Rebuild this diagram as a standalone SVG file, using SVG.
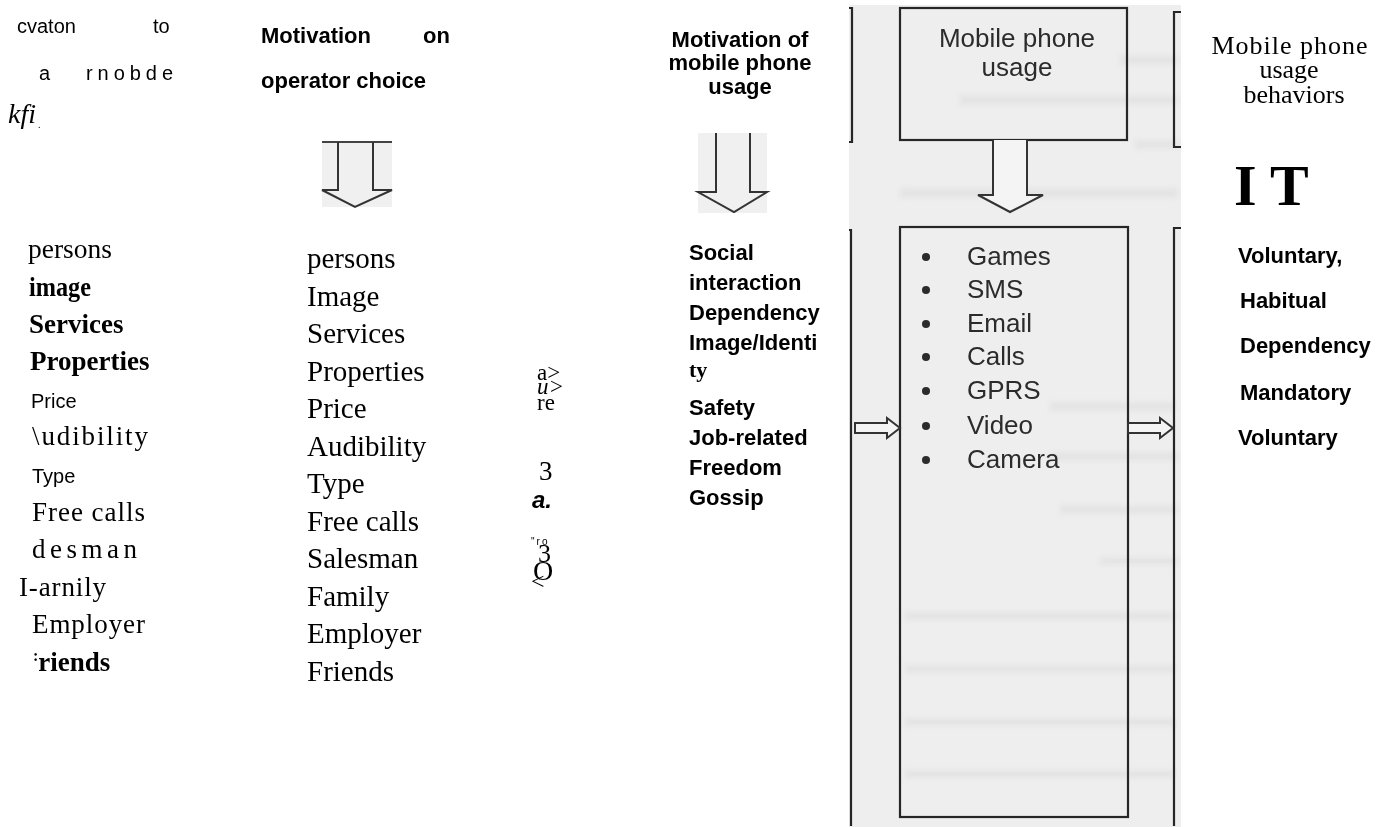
<svg xmlns="http://www.w3.org/2000/svg" width="1392" height="827" viewBox="0 0 1392 827">
<defs>
<style>
.sans{font-family:"Liberation Sans",Arial,sans-serif;fill:#000}
.sb{font-family:"Liberation Sans",Arial,sans-serif;font-weight:bold;fill:#000;font-size:22px}
.serif{font-family:"Liberation Serif","Times New Roman",serif;fill:#000}
.scan{font-family:"Liberation Sans",Arial,sans-serif;fill:#2b2b2b;font-size:26px}
.ln{fill:none;stroke:#262626;stroke-width:2.2}
.blk{fill:#f4f4f4;stroke:#333;stroke-width:2}
.ghost{fill:#d6d6d6;opacity:0.4}
</style>
<filter id="blur" x="-5%" y="-50%" width="110%" height="200%"><feGaussianBlur stdDeviation="2.5"/></filter>
</defs>
<rect width="1392" height="827" fill="#fff"/>

<!-- scanned background -->
<g id="scan-bg">
<rect x="849" y="5" width="332" height="822" fill="#eeeeee"/>
<g filter="url(#blur)">
<rect class="ghost" x="1120" y="55" width="58" height="10"/>
<rect class="ghost" x="960" y="95" width="218" height="10"/>
<rect class="ghost" x="1135" y="140" width="45" height="9"/>
<rect class="ghost" x="900" y="188" width="278" height="10"/>
<rect class="ghost" x="1050" y="402" width="125" height="9"/>
<rect class="ghost" x="1050" y="452" width="128" height="9"/>
<rect class="ghost" x="1060" y="505" width="118" height="9"/>
<rect class="ghost" x="1100" y="557" width="78" height="8"/>
<rect class="ghost" x="905" y="612" width="270" height="8"/>
<rect class="ghost" x="905" y="665" width="270" height="8"/>
<rect class="ghost" x="905" y="718" width="270" height="8"/>
<rect class="ghost" x="905" y="770" width="270" height="8"/>
</g>
</g>

<!-- left column (OCR) -->
<g id="col-operator-ocr">
<text class="sans" x="17" y="33" font-size="20">cvaton</text>
<text class="sans" x="153" y="33" font-size="20">to</text>
<text class="sans" x="39" y="80" font-size="20">a</text>
<text class="sans" x="86" y="80" font-size="20" textLength="87">rnobde</text>
<text class="serif" x="8" y="123" font-size="28" font-style="italic">kfi<tspan font-size="10" font-style="normal" dx="2" dy="5">.</tspan></text>
<text class="serif" x="28" y="258" font-size="27.5">persons</text>
<text class="serif" x="29" y="296" font-size="27" font-weight="bold" textLength="62" lengthAdjust="spacingAndGlyphs">image</text>
<text class="serif" x="29" y="333" font-size="27" font-weight="bold">Services</text>
<text class="serif" x="30" y="370" font-size="27" font-weight="bold">Properties</text>
<text class="sans" x="31" y="408" font-size="20">Price</text>
<text class="serif" x="32" y="445" font-size="27" textLength="116">\udibility</text>
<text class="sans" x="32" y="483" font-size="20">Type</text>
<text class="serif" x="32" y="521" font-size="27" textLength="113">Free calls</text>
<text class="serif" x="32" y="558" font-size="27" textLength="105">desman</text>
<text class="serif" x="19" y="596" font-size="27" textLength="87">I-arnily</text>
<text class="serif" x="32" y="633" font-size="27" textLength="113">Employer</text>
<text class="serif" x="33" y="671" font-size="27" font-weight="bold"><tspan font-size="16" dy="-10">:</tspan><tspan dy="10">riends</tspan></text>
</g>

<!-- motivation on operator choice -->
<g id="col-operator">
<text class="sb" x="261" y="43">Motivation</text>
<text class="sb" x="423" y="43">on</text>
<text class="sb" x="261" y="88" font-size="22.5">operator  choice</text>
<g font-size="29">
<text class="serif" x="307" y="268">persons</text>
<text class="serif" x="307" y="305.5">Image</text>
<text class="serif" x="307" y="343">Services</text>
<text class="serif" x="307" y="380.5">Properties</text>
<text class="serif" x="307" y="418">Price</text>
<text class="serif" x="307" y="455.5">Audibility</text>
<text class="serif" x="307" y="493">Type</text>
<text class="serif" x="307" y="530.5">Free calls</text>
<text class="serif" x="307" y="568">Salesman</text>
<text class="serif" x="307" y="605.5">Family</text>
<text class="serif" x="307" y="643">Employer</text>
<text class="serif" x="307" y="680.5">Friends</text>
</g>
</g>

<!-- vertical OCR fragments -->
<g id="ocr-fragments">
<text class="serif" x="537" y="380" font-size="23">a&gt;<tspan x="537" dy="14" font-style="italic">u&gt;</tspan><tspan x="537" dy="16">re</tspan></text>
<text class="serif" x="539" y="480" font-size="27">3</text>
<text class="sans" x="532" y="508" font-size="24" font-weight="bold" font-style="italic">a.</text>
<text class="serif" x="531" y="545" font-size="10"><tspan font-family="Liberation Sans, sans-serif" letter-spacing="2">"ro</tspan><tspan x="538" dy="17" font-size="26">3</tspan><tspan x="533" dy="18" font-size="28">O</tspan><tspan x="531" dy="9" font-size="24">&lt;</tspan></text>
</g>

<!-- motivation of mobile phone usage -->
<g id="col-motivation">
<text class="sb" x="740" y="47" text-anchor="middle">Motivation of</text>
<text class="sb" x="740" y="70" text-anchor="middle">mobile phone</text>
<text class="sb" x="740" y="94" text-anchor="middle">usage</text>
<text class="sb" x="689" y="260">Social</text>
<text class="sb" x="689" y="290">interaction</text>
<text class="sb" x="689" y="320">Dependency</text>
<text class="sb" x="689" y="350">Image/Identi</text>
<text class="serif" x="689" y="377" font-size="22" font-weight="bold">ty</text>
<text class="sb" x="689" y="415">Safety</text>
<text class="sb" x="689" y="445">Job-related</text>
<text class="sb" x="689" y="475">Freedom</text>
<text class="sb" x="689" y="505">Gossip</text>
</g>

<!-- scanned boxes -->
<g id="left-partial-boxes">
<path class="ln" d="M849,8 H852 V142 H849"/>
<path class="ln" d="M849,230 H851 V826"/>
</g>
<g id="node-usage">
<rect class="ln" x="900" y="8" width="227" height="132"/>
<text class="scan" x="1017" y="47" text-anchor="middle">Mobile phone</text>
<text class="scan" x="1017" y="76" text-anchor="middle">usage</text>
</g>
<g id="node-services">
<rect class="ln" x="900" y="227" width="228" height="590"/>
<g fill="#2b2b2b">
<circle cx="926" cy="257" r="4"/>
<circle cx="926" cy="290" r="4"/>
<circle cx="926" cy="324" r="4"/>
<circle cx="926" cy="357" r="4"/>
<circle cx="926" cy="391" r="4"/>
<circle cx="926" cy="426" r="4"/>
<circle cx="926" cy="460" r="4"/>
</g>
<text class="scan" x="967" y="265">Games</text>
<text class="scan" x="967" y="298">SMS</text>
<text class="scan" x="967" y="332">Email</text>
<text class="scan" x="967" y="365">Calls</text>
<text class="scan" x="967" y="399">GPRS</text>
<text class="scan" x="967" y="434">Video</text>
<text class="scan" x="967" y="468">Camera</text>
</g>
<g id="right-partial-boxes">
<path class="ln" d="M1181,12 H1174 V147 H1181"/>
<path class="ln" d="M1181,228 H1174 V826"/>
</g>

<!-- connectors (block arrows) -->
<g id="connectors">
<rect x="322" y="141" width="70" height="66" fill="#f0f0f0"/>
<path d="M322,142 H392" stroke="#444" stroke-width="2" fill="none"/>
<path d="M338,142 V190 H322 L355,207 L392,190 H373 V142" fill="none" stroke="#333" stroke-width="2"/>
<rect x="698" y="133" width="69" height="80" fill="#f0f0f0"/>
<path d="M716,133 V192 H698 L734,212 L767,192 H750 V133" fill="none" stroke="#333" stroke-width="2"/>
<path class="blk" d="M993,140 V195 H978 L1010,212 L1043,195 H1027 V140"/>
<path class="blk" d="M855,423 H887 V418 L900,428 L887,438 V433 H855 Z"/>
<path class="blk" d="M1128,423 H1160 V418 L1173,428 L1160,438 V433 H1128 Z"/>
</g>

<!-- behaviors column -->
<g id="col-behaviors">
<text class="serif" x="1290" y="54" font-size="26" text-anchor="middle" letter-spacing="1">Mobile phone</text>
<text class="serif" x="1289" y="78" font-size="26" text-anchor="middle">usage</text>
<text class="serif" x="1294" y="103" font-size="26" text-anchor="middle">behaviors</text>
<text class="serif" x="1234" y="205" font-size="58" font-weight="bold">I T</text>
<text class="sb" x="1238" y="263">Voluntary,</text>
<text class="sb" x="1240" y="308">Habitual</text>
<text class="sb" x="1240" y="353">Dependency</text>
<text class="sb" x="1240" y="400">Mandatory</text>
<text class="sb" x="1238" y="445">Voluntary</text>
</g>
</svg>
